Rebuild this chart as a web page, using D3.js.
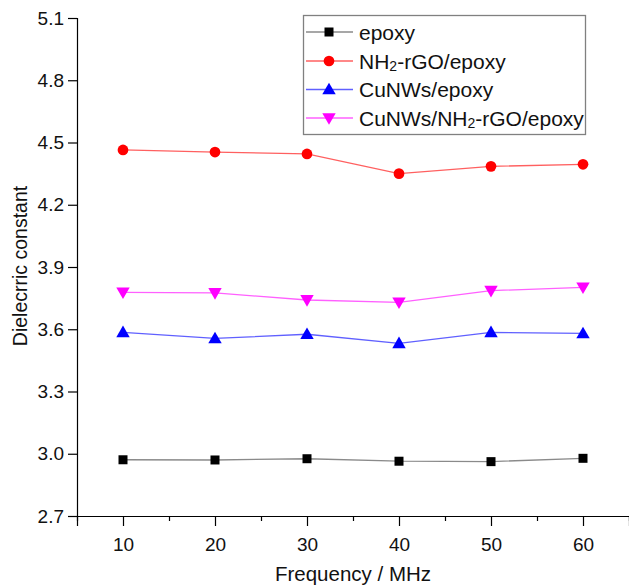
<!DOCTYPE html>
<html>
<head>
<meta charset="utf-8">
<script src="https://cdn.jsdelivr.net/npm/d3@7"></script>
<style>
  body { margin: 0; background: #fff; }
  svg { display: block; font-family: "Liberation Sans", Arial, sans-serif; }
</style>
</head>
<body>
<div id="chart"></div>
<script>
var width = 629;
var height = 585;

// data
var frequency = [10, 20, 30, 40, 50, 60];
var epoxy = [2.971, 2.970, 2.976, 2.964, 2.962, 2.978];
var rgoEpoxy = [4.464, 4.454, 4.445, 4.350, 4.385, 4.395];
var cuEpoxy = [3.585, 3.556, 3.576, 3.532, 3.585, 3.580];
var cuRgoEpoxy = [3.778, 3.775, 3.741, 3.730, 3.786, 3.802];
var yTicks = [2.7, 3.0, 3.3, 3.6, 3.9, 4.2, 4.5, 4.8, 5.1];
var xTicks = [10, 20, 30, 40, 50, 60];
var xMinor = [5, 15, 25, 35, 45, 55, 65];

var series = [
    {name: ["epoxy"], values: epoxy, color: "#000000", line: "#8a8a8a", symbol: d3.symbolSquare, size: 81, rot: 0},
    {name: ["NH", "2", "-rGO/epoxy"], values: rgoEpoxy, color: "#ff0000", line: "#ff6060", symbol: d3.symbolCircle, size: 90, rot: 0},
    {name: ["CuNWs/epoxy"], values: cuEpoxy, color: "#0000ff", line: "#6060ff", symbol: d3.symbolTriangle, size: 78, rot: 0},
    {name: ["CuNWs/NH", "2", "-rGO/epoxy"], values: cuRgoEpoxy, color: "#ff00ff", line: "#ff60ff", symbol: d3.symbolTriangle, size: 78, rot: 180}
];

var x = d3.scaleLinear().domain([5, 65]).range([77, 629]);
var y = d3.scaleLinear().domain([2.7, 5.1]).range([516, 18]);

var svg = d3.select("#chart").append("svg")
    .attr("width", width)
    .attr("height", height);

// axes
var xAxis = svg.append("g").attr("transform", "translate(0,516)")
    .call(d3.axisBottom(x).tickValues(xTicks).tickSize(10).tickPadding(8).tickFormat(d3.format("d")));
svg.append("g").attr("transform", "translate(0,516)")
    .call(d3.axisBottom(x).tickValues(xMinor).tickSize(5).tickFormat(""))
    .select(".domain").remove();
var yAxis = svg.append("g").attr("transform", "translate(77,0)")
    .call(d3.axisLeft(y).tickValues(yTicks).tickSize(9).tickPadding(4).tickFormat(d3.format(".1f")));

svg.selectAll(".domain").attr("stroke", "#000").attr("stroke-width", 1.2);
svg.selectAll(".tick line").attr("stroke", "#000").attr("stroke-width", 1.2);
svg.selectAll(".tick text").attr("font-size", "19px").attr("fill", "#111")
    .attr("font-family", "Liberation Sans, Arial, sans-serif");
xAxis.selectAll(".tick text").attr("dy", "0.9em");

// axis titles
svg.append("text")
    .attr("x", 353).attr("y", 581)
    .attr("text-anchor", "middle")
    .attr("font-size", "20.5px").attr("fill", "#111")
    .text("Frequency / MHz");
svg.append("text")
    .attr("transform", "translate(27,266) rotate(-90)")
    .attr("text-anchor", "middle")
    .attr("font-size", "19.5px").attr("fill", "#111")
    .text("Dielecrric constant");

// lines and markers
var lineGenerator = d3.line()
    .x(function (d, i) { return x(frequency[i]); })
    .y(function (d) { return y(d); });

series.forEach(function (s) {
    svg.append("path")
        .attr("d", lineGenerator(s.values))
        .style("fill", "none").style("stroke", s.line).style("stroke-width", "1.3px");
    svg.selectAll(null)
        .data(s.values).enter().append("path")
        .attr("d", d3.symbol().type(s.symbol).size(s.size))
        .attr("transform", function (d, i) {
            var dy = s.symbol === d3.symbolTriangle ? (s.rot ? -1 : 1) : 0;
            return "translate(" + x(frequency[i]) + "," + (y(d) + dy) + ") rotate(" + s.rot + ")";
        })
        .attr("fill", s.color);
});

// legend
var legend = svg.append("g");
legend.append("rect")
    .attr("x", 303.5).attr("y", 15.5)
    .attr("width", 282).attr("height", 119)
    .attr("fill", "#fff").attr("stroke", "#808080").attr("stroke-width", 1.3);

var rowY = [32, 61, 89.5, 118];
series.forEach(function (s, i) {
    var g = legend.append("g").attr("transform", "translate(0," + rowY[i] + ")");
    g.append("line").attr("x1", 306).attr("x2", 353).attr("y1", 0).attr("y2", 0)
        .attr("stroke", s.line).attr("stroke-width", 1.3);
    g.append("path")
        .attr("d", d3.symbol().type(s.symbol).size(s.size))
        .attr("transform", "translate(329," + (s.symbol === d3.symbolTriangle ? (s.rot ? -1 : 1) : 0) + ") rotate(" + s.rot + ")")
        .attr("fill", s.color);
    var t = g.append("text").attr("x", 359).attr("y", 7.5)
        .attr("font-size", "21px").attr("fill", "#111");
    s.name.forEach(function (part, j) {
        var sp = t.append("tspan").text(part);
        if (part === "2") {
            sp.attr("font-size", "14px").attr("dy", "2");
        } else if (j > 0) {
            sp.attr("dy", "-2");
        }
    });
});
</script>
</body>
</html>
